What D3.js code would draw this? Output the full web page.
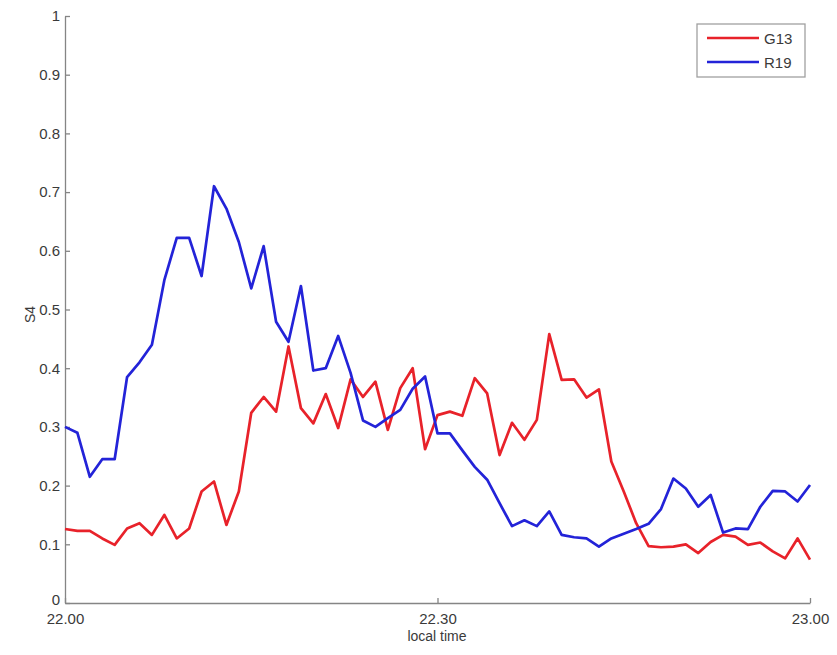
<!DOCTYPE html>
<html>
<head>
<meta charset="utf-8">
<script src="https://cdn.jsdelivr.net/npm/d3@7"></script>
<style>
  html, body { margin: 0; padding: 0; background: #fff; }
  svg { display: block; }
  .axis text { font-family: "Liberation Sans", Arial, sans-serif; font-size: 15px; fill: #3a3a3a; }
  .axis path, .axis line { stroke: #858585; stroke-width: 1.3; }
  .title { font-family: "Liberation Sans", Arial, sans-serif; font-size: 14px; fill: #3a3a3a; }
</style>
</head>
<body>
<svg id="chart" width="837" height="655"></svg>
<script>
// Minutes after 22.00, one sample per minute
const minutes = d3.range(0, 61);

// S4 scintillation index, satellite G13
const g13 = [0.126, 0.123, 0.123, 0.110, 0.099, 0.127, 0.136, 0.116, 0.150, 0.110,
             0.127, 0.190, 0.207, 0.133, 0.190, 0.324, 0.351, 0.326, 0.437, 0.332,
             0.306, 0.356, 0.298, 0.381, 0.351, 0.377, 0.295, 0.366, 0.400, 0.262,
             0.320, 0.326, 0.319, 0.383, 0.357, 0.252, 0.307, 0.278, 0.312, 0.458,
             0.380, 0.381, 0.350, 0.364, 0.241, 0.190, 0.136, 0.097, 0.095, 0.096,
             0.100, 0.085, 0.104, 0.116, 0.113, 0.099, 0.103, 0.088, 0.076, 0.110,
             0.074];

// S4 scintillation index, satellite R19
const r19 = [0.300, 0.290, 0.215, 0.245, 0.245, 0.385, 0.410, 0.440, 0.550, 0.622,
             0.622, 0.557, 0.710, 0.672, 0.615, 0.536, 0.608, 0.479, 0.445, 0.540,
             0.396, 0.400, 0.455, 0.392, 0.311, 0.300, 0.315, 0.329, 0.365, 0.386,
             0.289, 0.289, 0.260, 0.232, 0.210, 0.170, 0.131, 0.141, 0.131, 0.156,
             0.116, 0.112, 0.110, 0.096, 0.110, 0.118, 0.126, 0.135, 0.160, 0.212,
             0.195, 0.164, 0.184, 0.120, 0.127, 0.126, 0.164, 0.191, 0.190, 0.173,
             0.201];

const seriesNames = ["G13", "R19"];
const seriesColors = ["#e8222a", "#2323d8"];

const xTickValues = [0, 30, 60];
const xTickLabels = ["22.00", "22.30", "23.00"];
const yTickValues = [0, 0.1, 0.2, 0.3, 0.4, 0.5, 0.6, 0.7, 0.8, 0.9, 1];
const yTickLabels = ["0", "0.1", "0.2", "0.3", "0.4", "0.5", "0.6", "0.7", "0.8", "0.9", "1"];

const svg = d3.select("#chart");
const plotLeft = 65, plotRight = 810, plotTop = 16, plotBottom = 603;

const x = d3.scaleLinear().domain([0, 60]).range([plotLeft, plotRight]);
const y = d3.scaleLinear().domain([0, 1]).range([plotBottom, plotTop]);

// Axes with inward ticks
svg.append("g")
  .attr("class", "axis")
  .attr("transform", `translate(0,${plotBottom})`)
  .call(d3.axisBottom(x)
    .tickValues(xTickValues)
    .tickFormat((d, i) => xTickLabels[i])
    .tickSizeInner(-5).tickSizeOuter(0).tickPadding(10));

const yAxisG = svg.append("g")
  .attr("class", "axis")
  .attr("transform", `translate(${plotLeft},0)`)
  .call(d3.axisLeft(y)
    .tickValues(yTickValues)
    .tickFormat((d, i) => yTickLabels[i])
    .tickSizeInner(-5).tickSizeOuter(0).tickPadding(5));

// Lift the zero label so it sits clear of the first time label
yAxisG.selectAll(".tick text").filter(d => d === 0).attr("dy", "0.1em");

// Axis titles
svg.append("text")
  .attr("class", "title")
  .attr("x", 437).attr("y", 641)
  .attr("text-anchor", "middle")
  .text("local time");

svg.append("text")
  .attr("class", "title")
  .attr("transform", `translate(35,${(plotTop + plotBottom) / 2 + 5}) rotate(-90)`)
  .attr("text-anchor", "middle")
  .text("S4");

// Series lines
const line = d3.line()
  .x((d, i) => x(minutes[i]))
  .y(d => y(d));

[g13, r19].forEach((vals, k) => {
  svg.append("path")
    .datum(vals)
    .attr("fill", "none")
    .attr("stroke", seriesColors[k])
    .attr("stroke-width", 2.7)
    .attr("stroke-linejoin", "round")
    .attr("d", line);
});

// Legend
const lg = svg.append("g").attr("transform", "translate(697,24)");
lg.append("rect")
  .attr("width", 108).attr("height", 53)
  .attr("fill", "#fff").attr("stroke", "#a0a0a0").attr("stroke-width", 1.3);
seriesNames.forEach((name, k) => {
  const yy = 14 + k * 24;
  lg.append("line")
    .attr("x1", 10).attr("x2", 62).attr("y1", yy).attr("y2", yy)
    .attr("stroke", seriesColors[k]).attr("stroke-width", 2.7);
  lg.append("text")
    .attr("x", 67).attr("y", yy + 5.5)
    .style("font-family", "Liberation Sans, Arial, sans-serif")
    .style("font-size", "15px").style("fill", "#3a3a3a")
    .text(name);
});
</script>
</body>
</html>
